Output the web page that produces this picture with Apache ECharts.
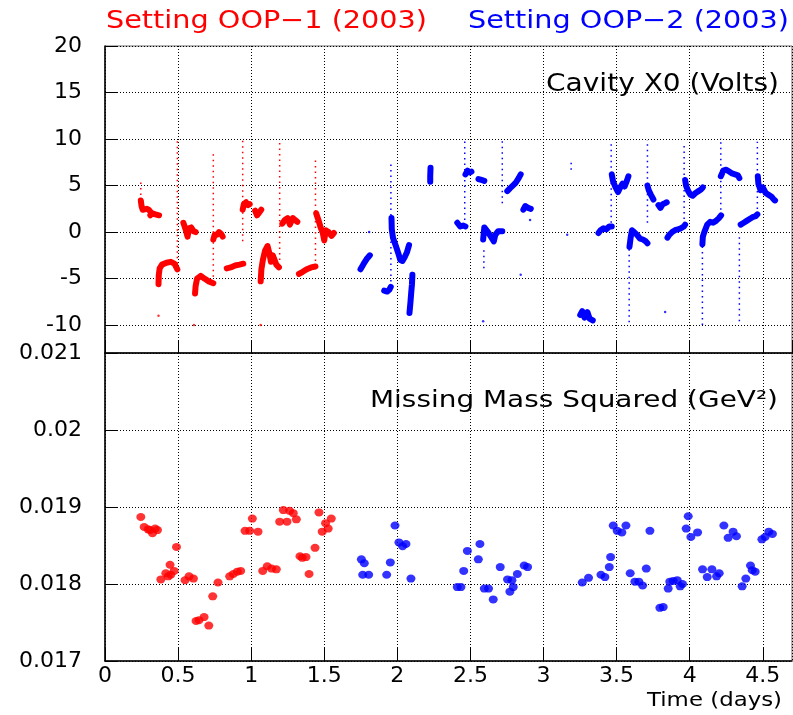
<!DOCTYPE html>
<html><head><meta charset="utf-8">
<script src="https://cdn.jsdelivr.net/npm/echarts@6/dist/echarts.min.js"></script>
<style>html,body{margin:0;padding:0;background:#fff}#c{width:793px;height:715px}</style>
</head><body><div id="c"></div>
<script>
// ---------------- DATA ----------------
// Top panel: Cavity X0 (Volts) vs time (days)
// dense streaks of readings (time, volts)
const oop1Traces = [
  [[0.245,3.4],[0.25,2.8],[0.258,2.4],[0.27,2.2],[0.285,2.5],[0.3,2.4],[0.31,2.2]],
  [[0.31,1.8],[0.325,2.0],[0.345,1.9],[0.37,1.8]],
  [[0.366,-5.6],[0.368,-4.6],[0.374,-3.9],[0.39,-3.5],[0.42,-3.3],[0.45,-3.2],[0.475,-3.4],[0.495,-4.0]],
  [[0.536,1.0],[0.545,0.6],[0.553,0.2],[0.565,-0.5],[0.575,0.4],[0.59,0.5],[0.605,0.1],[0.62,0.0]],
  [[0.616,-6.6],[0.62,-5.8],[0.63,-5.0],[0.655,-4.7],[0.68,-5.0],[0.71,-5.3],[0.741,-5.5]],
  [[0.741,-0.8],[0.75,-0.3],[0.765,-0.3],[0.78,0.0],[0.795,-0.2],[0.805,-0.5]],
  [[0.833,-3.9],[0.86,-3.8],[0.89,-3.6],[0.92,-3.5],[0.946,-3.4]],
  [[0.942,2.4],[0.95,3.0],[0.965,3.2],[0.98,2.9],[0.99,3.0]],
  [[1.027,2.3],[1.04,1.8],[1.055,2.1],[1.069,2.4]],
  [[1.065,-5.3],[1.07,-4.0],[1.08,-3.0],[1.095,-2.0],[1.112,-1.5],[1.125,-2.3],[1.135,-3.2],[1.148,-2.5],[1.16,-2.7],[1.172,-3.5],[1.19,-3.8]],
  [[1.213,0.9],[1.23,1.3],[1.25,1.5],[1.265,0.8],[1.285,1.5],[1.3,1.3],[1.316,1.1]],
  [[1.327,-4.5],[1.35,-4.3],[1.38,-4.0],[1.41,-3.8],[1.44,-3.7]],
  [[1.445,2.0],[1.46,1.3],[1.475,0.5],[1.49,-0.1],[1.5,-0.9],[1.51,0.2],[1.53,0.0],[1.55,-0.4],[1.566,-0.1]]
];
// sparse vertical excursions: [time, low volts, high volts]
const oop1Spikes = [
  [0.245,3.4,5.5],[0.495,-4.0,9.8],[0.741,-4.8,8.6],[0.942,-1.0,10.0],[1.195,-3.0,9.7],[1.44,-3.7,7.9]
];
const oop1Dots = [[0.366,-9.0],[0.609,-10.0],[1.065,-10.0]];

const oop2Traces = [
  [[1.748,-4.0],[1.77,-3.4],[1.79,-2.9],[1.812,-2.5]],
  [[1.91,-6.3],[1.93,-6.4],[1.945,-6.2],[1.955,-5.9]],
  [[1.96,1.5],[1.962,0.3],[1.97,-0.6],[1.99,-1.5],[2.007,-2.3],[2.02,-3.0],[2.035,-3.1],[2.05,-2.7],[2.065,-2.2],[2.08,-1.4]],
  [[2.103,-4.6],[2.1,-5.6],[2.095,-6.5],[2.09,-7.5],[2.083,-8.7]],
  [[2.225,5.4],[2.225,6.0],[2.227,6.9]],
  [[2.466,6.2],[2.48,6.6],[2.495,6.4],[2.507,6.5]],
  [[2.41,1.0],[2.43,0.6],[2.45,0.7],[2.466,0.6]],
  [[2.555,5.7],[2.575,5.6],[2.595,5.5]],
  [[2.587,-0.8],[2.595,0.5],[2.605,0.5],[2.62,0.0],[2.64,-0.5],[2.66,-1.0],[2.67,-0.3],[2.69,0.1],[2.718,0.1]],
  [[2.752,4.4],[2.77,4.7],[2.79,5.0],[2.81,5.3],[2.83,5.8],[2.844,6.2]],
  [[2.862,2.4],[2.875,2.8],[2.895,2.6],[2.913,2.5]],
  [[3.251,-8.9],[3.265,-8.5],[3.28,-9.2],[3.3,-8.6],[3.315,-9.3],[3.337,-9.5]],
  [[3.376,-0.1],[3.39,0.2],[3.41,0.4],[3.43,0.3],[3.45,0.6],[3.467,0.6]],
  [[3.467,6.2],[3.475,5.5],[3.49,4.9],[3.5,4.6],[3.51,4.3],[3.525,4.8],[3.54,5.2],[3.555,4.9],[3.57,5.5],[3.581,6.0]],
  [[3.588,-1.6],[3.597,-0.5],[3.605,0.2],[3.62,0.0],[3.64,-0.3],[3.66,-0.7],[3.68,-0.8],[3.7,-1.0],[3.711,-1.2]],
  [[3.711,5.0],[3.72,4.5],[3.735,4.0],[3.752,3.5]],
  [[3.786,2.9],[3.8,2.6],[3.815,3.0],[3.83,3.1],[3.843,3.2]],
  [[3.848,-0.6],[3.86,-0.3],[3.88,0.0],[3.9,0.2],[3.92,0.3],[3.94,0.4],[3.96,0.6],[3.969,0.8]],
  [[3.969,5.6],[3.975,5.0],[3.99,4.4],[4.005,4.0],[4.02,3.9],[4.04,4.2],[4.06,4.4],[4.08,4.6],[4.09,4.8]],
  [[4.087,-1.3],[4.09,-0.5],[4.1,0.0],[4.12,0.8],[4.14,1.1],[4.16,1.0],[4.18,1.2],[4.2,1.5],[4.215,1.8]],
  [[4.213,6.0],[4.23,6.6],[4.25,6.7],[4.27,6.5],[4.29,6.3],[4.31,6.2],[4.33,6.1],[4.34,5.8]],
  [[4.349,0.8],[4.37,1.0],[4.39,1.2],[4.41,1.4],[4.43,1.6],[4.45,1.7],[4.463,1.9]],
  [[4.466,6.0],[4.47,5.2],[4.485,4.5],[4.5,4.8],[4.52,4.2],[4.54,4.0],[4.56,3.8],[4.575,3.5],[4.584,3.4]]
];
const oop2Spikes = [
  [1.956,-5.9,7.7],[2.461,1.3,10.0],[2.592,-3.9,-1.7],[2.718,3.1,9.9],[3.189,6.7,7.5],
  [3.463,1.0,9.5],[3.586,-9.7,-1.5],[3.711,1.0,9.9],[3.962,0.8,9.5],[4.087,-10.0,-1.3],
  [4.213,1.8,10.1],[4.34,-9.6,-0.1],[4.463,1.9,9.7]
];
const oop2Dots = [[1.807,0.0],[2.844,-4.6],[2.587,-9.6],[3.162,-0.3],[3.832,-8.6],[2.908,1.3],[2.1,-4.4]];

// Bottom panel: Missing Mass Squared (GeV^2) vs time (days)
const mm1Time = [0.245,0.268,0.295,0.308,0.325,0.343,0.359,0.382,0.416,0.432,0.445,0.450,0.473,0.489,
  0.548,0.575,0.605,0.623,0.643,0.678,0.710,0.737,0.773,0.853,0.878,0.905,0.928,0.958,0.990,1.008,
  1.047,1.079,1.110,1.140,1.172,1.195,1.220,1.245,1.263,1.288,1.309,1.334,1.350,1.375,1.396,1.437,
  1.464,1.486,1.509,1.527,1.548];
const mm1Value = [0.01887,0.01874,0.01871,0.01870,0.01866,0.01872,0.01870,0.01806,0.01814,0.01810,0.01825,0.01812,0.01817,0.01848,
  0.01805,0.01810,0.01807,0.01752,0.01753,0.01757,0.01746,0.01784,0.01802,0.01810,0.01813,0.01816,0.01817,0.01869,0.01869,0.01885,
  0.01868,0.01817,0.01823,0.01820,0.01819,0.01881,0.01896,0.01881,0.01895,0.01892,0.01884,0.01836,0.01834,0.01835,0.01813,0.01847,
  0.01893,0.01868,0.01879,0.01872,0.01885];
const mm2Time = [1.754,1.774,1.763,1.804,1.927,1.952,1.984,2.011,2.036,2.059,2.093,
  2.410,2.435,2.454,2.479,2.554,2.565,2.595,2.624,2.656,2.704,2.754,2.784,2.793,2.770,2.821,2.868,2.891,
  3.265,3.308,3.393,3.420,3.450,3.459,3.477,3.504,3.536,3.564,3.593,3.625,3.652,3.678,3.703,3.728,
  3.796,3.819,3.853,3.864,3.887,3.915,3.935,3.951,3.976,3.990,4.008,4.054,4.088,4.120,4.152,4.184,4.202,
  4.234,4.263,4.297,4.320,4.359,4.384,4.416,4.428,4.448,4.494,4.516,4.541,4.566];
const mm2Value = [0.01832,0.01827,0.01812,0.01812,0.01812,0.01828,0.01876,0.01854,0.01849,0.01852,0.01807,
  0.01796,0.01796,0.01817,0.01843,0.01832,0.01852,0.01794,0.01794,0.01780,0.01822,0.01806,0.01805,0.01796,0.01790,0.01813,0.01824,0.01822,
  0.01802,0.01808,0.01812,0.01809,0.01822,0.01835,0.01876,0.01869,0.01867,0.01876,0.01814,0.01803,0.01803,0.01798,0.01820,0.01869,
  0.01769,0.01770,0.01794,0.01803,0.01804,0.01805,0.01797,0.01800,0.01872,0.01888,0.01861,0.01867,0.01819,0.01809,0.01819,0.01810,0.01814,
  0.01876,0.01860,0.01868,0.01862,0.01797,0.01807,0.01824,0.01818,0.01816,0.01858,0.01861,0.01868,0.01865];

const xTickLabels = ['0','0.5','1','1.5','2','2.5','3','3.5','4','4.5'];
const titleText1 = 'Setting OOP\u22121 (2003)';
const titleText2 = 'Setting OOP\u22122 (2003)';
const topPanelText = 'Cavity X0 (Volts)';
const bottomPanelText = 'Missing Mass Squared (GeV\u00B2)';
const xAxisText = 'Time (days)';

// ---------------- STYLE / BUILD ----------------
const RED = '#ff0000', BLUE = '#0000ff';
const FONT = 'DejaVu Sans';
const chart = echarts.init(document.getElementById('c'), null, {renderer:'canvas'});

const mctx = document.createElement('canvas').getContext('2d');
function fitText(text, left, cy, targetW, size, color) {
  const font = size + 'px "' + FONT + '"';
  mctx.font = font;
  const w = mctx.measureText(text).width;
  return {type:'text', x:left, y:cy, scaleX: targetW / w, scaleY: 1, silent:true, z:100,
    style:{text:text, font:font, fontSize:size, fontFamily:FONT, fill:color,
      textAlign:'left', textVerticalAlign:'middle', align:'left', verticalAlign:'middle'}};
}

const gridLine = {show:true, lineStyle:{color:'#000', width:1, type:[1,2]}};
function xAxisCfg(gi, showLabels) {
  return {type:'value', gridIndex:gi, min:0, max:4.7, interval:0.5,
    axisLine:{show:true, onZero:false, lineStyle:{color:'#000', width:1.5}},
    axisTick:{show:true, inside:true, length:13, lineStyle:{color:'#000', width:1}},
    axisLabel:{show:showLabels, showMaxLabel:false, margin:4, color:'#000', fontSize:22, fontFamily:FONT,
      formatter:function(v){ const i = Math.round(v/0.5); return (Math.abs(v - i*0.5) < 1e-6 && i < xTickLabels.length) ? xTickLabels[i] : ''; }},
    splitLine:gridLine};
}

const series = [];
function addTraces(traces, color) {
  traces.forEach(function(t){
    series.push({type:'line', xAxisIndex:0, yAxisIndex:0, data:t, symbol:'none', silent:true,
      lineStyle:{color:color, width:6, cap:'round', join:'round'}, z:3});
  });
}
function addSpikes(spikes, color) {
  spikes.forEach(function(s){
    series.push({type:'line', xAxisIndex:0, yAxisIndex:0, data:[[s[0],s[1]],[s[0],s[2]]], symbol:'none', silent:true,
      lineStyle:{color:color, width:1.5, type:[1.5,4]}, z:2});
  });
}
addSpikes(oop1Spikes, RED); addTraces(oop1Traces, RED);
addSpikes(oop2Spikes, BLUE); addTraces(oop2Traces, BLUE);
series.push({type:'scatter', xAxisIndex:0, yAxisIndex:0, data:oop1Dots, symbolSize:2.5, itemStyle:{color:RED}, silent:true});
series.push({type:'scatter', xAxisIndex:0, yAxisIndex:0, data:oop2Dots, symbolSize:2.5, itemStyle:{color:BLUE}, silent:true});
series.push({type:'scatter', xAxisIndex:1, yAxisIndex:1, data:mm1Time.map(function(t,i){return [t, mm1Value[i]];}),
  symbolSize:[9,8], itemStyle:{color:RED}, silent:true});
series.push({type:'scatter', xAxisIndex:1, yAxisIndex:1, data:mm2Time.map(function(t,i){return [t, mm2Value[i]];}),
  symbolSize:[9,8], itemStyle:{color:BLUE}, silent:true});

chart.setOption({
  animation:false,
  backgroundColor:'#fff',
  textStyle:{fontFamily:FONT},
  grid:[
    {left:105, top:46, width:687, height:307, show:true, borderColor:'#666', borderWidth:1, backgroundColor:'transparent'},
    {left:105, top:353, width:687, height:308, show:true, borderColor:'#666', borderWidth:1, backgroundColor:'transparent'}
  ],
  xAxis:[xAxisCfg(0,false), xAxisCfg(1,true)],
  yAxis:[
    {type:'value', gridIndex:0, min:-13, max:20, splitNumber:7,
      axisLine:{show:true, onZero:false, lineStyle:{color:'#000', width:1.5}},
      axisTick:{show:true, inside:true, length:13, lineStyle:{color:'#000', width:1}},
      axisLabel:{margin:23, color:'#000', fontSize:22, fontFamily:FONT, showMinLabel:false,
        formatter:function(v){ return (Math.abs(v/5 - Math.round(v/5)) < 1e-6) ? String(Math.round(v)) : ''; }},
      splitLine:gridLine},
    {type:'value', gridIndex:1, min:0.017, max:0.021, interval:0.001,
      axisLine:{show:true, onZero:false, lineStyle:{color:'#000', width:1.5}},
      axisTick:{show:true, inside:true, length:13, lineStyle:{color:'#000', width:1}},
      axisLabel:{margin:23, color:'#000', fontSize:22, fontFamily:FONT,
        formatter:function(v){ return String(parseFloat(v.toFixed(3))); }},
      splitLine:gridLine}
  ],
  graphic:[
    fitText(titleText1, 106, 21, 321, 25, RED),
    fitText(titleText2, 468, 21, 321, 25, BLUE),
    fitText(topPanelText, 546, 85, 233, 24, '#000'),
    fitText(bottomPanelText, 370, 401, 408, 23, '#000'),
    fitText(xAxisText, 647, 701, 135, 20, '#000')
  ],
  series:series
});
</script></body></html>
